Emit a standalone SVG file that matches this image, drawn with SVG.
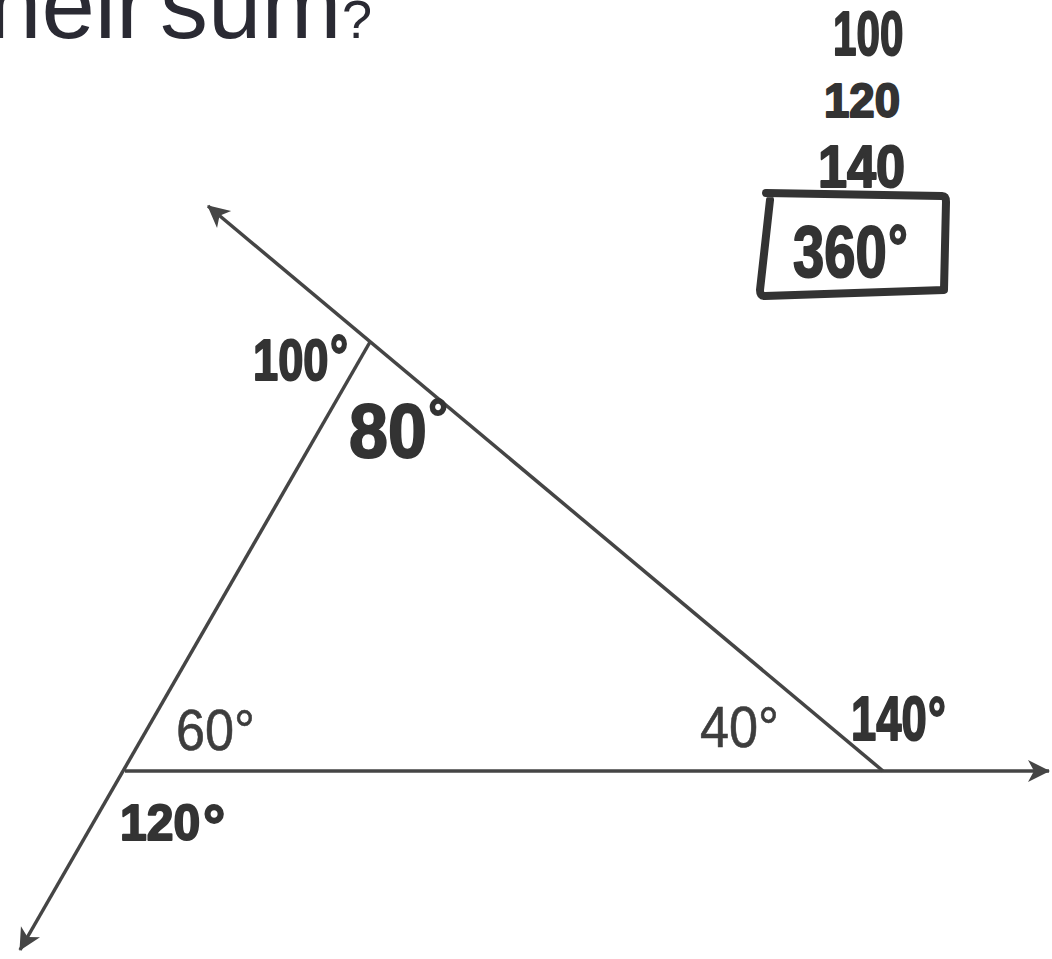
<svg xmlns="http://www.w3.org/2000/svg" width="1052" height="959" viewBox="0 0 1052 959">
<style>
.title{font-family:"Liberation Sans",Arial,sans-serif;fill:#2a2a33}
.line{stroke:#454545;stroke-width:3.5;fill:none;marker-end:url(#arr)}
.print{font-family:"Liberation Sans",Arial,sans-serif;fill:#3d3d3d;stroke:#3d3d3d;stroke-width:0.6;font-size:58px}
.hw{font-family:"Liberation Sans",Arial,sans-serif;font-weight:bold;fill:#333;stroke:#333;stroke-width:2;stroke-linejoin:round}
.box{fill:none;stroke:#333;stroke-width:8;stroke-linejoin:round;stroke-linecap:round}
</style>
<defs>
<marker id="arr" markerUnits="userSpaceOnUse" viewBox="-24 -13 26 26" refX="0" refY="0" markerWidth="26" markerHeight="26" orient="auto">
<path d="M1,0 L-21,-11 L-15,0 L-21,11 Z" fill="#454545"/>
</marker>
</defs>
<rect width="1052" height="959" fill="#fff"/>
<g id="title">
<text class="title" y="38" font-size="96"><tspan x="-12">heir</tspan><tspan x="160">sum</tspan><tspan x="342" font-size="54">?</tspan></text>
</g>
<g id="connectors">
<path class="line" d="M125,771 L1049,771"/>
<path class="line" d="M370,342 L20,950"/>
<path class="line" d="M883,771 L208,206"/>
</g>
<g id="angle-labels">
<text class="print" transform="translate(176,750) scale(0.9,1)">60°</text>
<text class="print" transform="translate(700,747) scale(0.9,1)">40°</text>
</g>
<g id="handwriting">
<text class="hw" font-size="62" transform="translate(833,55) scale(0.68,1)">100</text>
<text class="hw" font-size="48" transform="translate(824,117) scale(0.95,1)">120</text>
<text class="hw" font-size="60" transform="translate(818,187) scale(0.87,1)">140</text>
<path class="box" d="M766,193 L942,196 Q946,196 946,202 L944,290 L765,296 Q760,296 760,290 L770,200"/>
<text class="hw" font-size="72" transform="translate(793,277) scale(0.78,1)">360<tspan font-size="62" dx="2" dy="-9">°</tspan></text>
<text class="hw" font-size="58" transform="translate(253,380) scale(0.78,1)">100<tspan font-size="58" dx="2" dy="-5">°</tspan></text>
<text class="hw" font-size="76" transform="translate(349,457) scale(0.92,1)">80<tspan font-size="52" dx="2" dy="-22">°</tspan></text>
<text class="hw" font-size="63" transform="translate(851,740) scale(0.72,1)">140<tspan font-size="62" dx="2" dy="0">°</tspan></text>
<text class="hw" font-size="50" transform="translate(120,840) scale(0.96,1)">120<tspan font-size="58" dx="3" dy="5">°</tspan></text>
</g>
</svg>
